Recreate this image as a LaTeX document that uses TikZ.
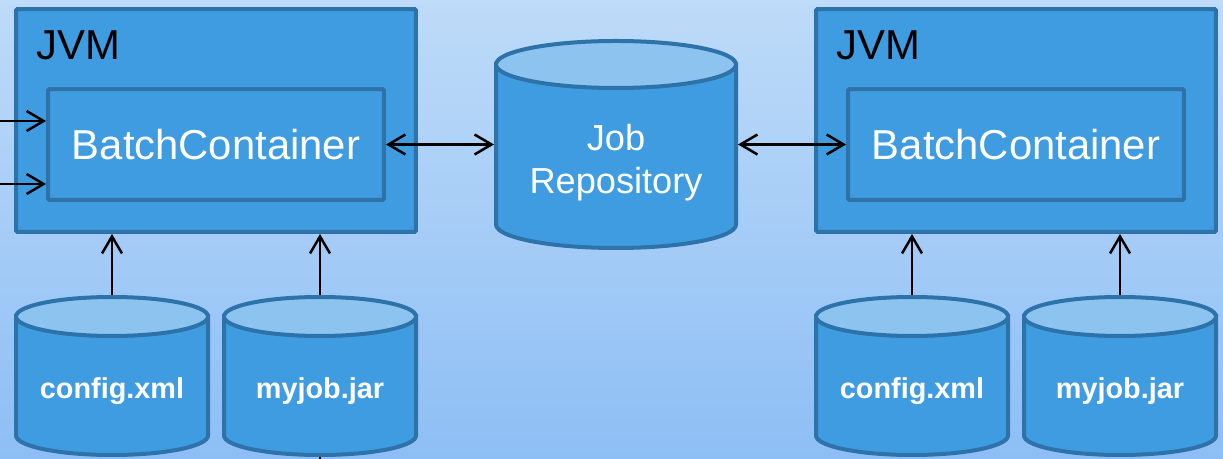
\documentclass[tikz,border=0pt]{standalone}
\usepackage{fontspec}
\setmainfont{Liberation Sans}
\usetikzlibrary{arrows.meta}

\definecolor{bgtop}{HTML}{BEDBF8}
\definecolor{bgbot}{HTML}{8DBEF5}
\definecolor{boxblue}{HTML}{3F9CE1}
\definecolor{boxedge}{HTML}{2E72AA}
\definecolor{lidblue}{HTML}{8CC4EF}

% drum: name, centre x, lid y, base y, x radius, y radius
\newcommand{\drum}[6]{%
	\draw[drumline, fill=boxblue] (#2-#5,#3) -- (#2-#5,#4) arc [start angle=180, end angle=360, x radius=#5, y radius=#6] -- (#2+#5,#3) -- cycle;
	\draw[drumline, fill=lidblue] (#2,#3) ellipse [x radius=#5, y radius=#6];
	\node[inner sep=0, outer sep=0, minimum width={(2*#5+4)*0.02cm}, minimum height={(#3-#4+2*#6+4)*0.02cm}] (#1) at (#2,{(#3+#4)/2}) {};
}

\begin{document}
\begin{tikzpicture}[x=0.02cm, y=0.02cm,
		drumline/.style={draw=boxedge, line width=0.08cm},
		jvmbox/.style={draw=boxedge, fill=boxblue, line width=0.08cm, rounded corners=0.03cm, inner sep=0, outer sep=0.04cm, minimum width=8cm, minimum height=4.46cm},
		cntbox/.style={draw=boxedge, fill=boxblue, line width=0.08cm, rounded corners=0.03cm, inner sep=0, outer sep=0.04cm, minimum width=6.72cm, minimum height=2.22cm, text=white, font=\fontsize{23.8pt}{28pt}\selectfont},
		jvmtext/.style={text=black, font=\fontsize{23.8pt}{28pt}\selectfont, inner sep=0},
		drumtext/.style={text=white, font=\bfseries\fontsize{16.4pt}{20pt}\selectfont},
		flow/.style={-{Straight Barb[length=0.34cm, width=0.4cm]}, line width=0.05cm},
		flowboth/.style={{Straight Barb[length=0.34cm, width=0.4cm]}-{Straight Barb[length=0.34cm, width=0.4cm]}, line width=0.05cm}]
	\useasboundingbox (0,0) rectangle (1223,459);
	\shade[top color=bgtop, bottom color=bgbot] (0,0) rectangle (1223,459);

	% Left JVM
	\node[jvmbox] (jvmL) at (216,338.5) {};
	\node[jvmtext, anchor=base west] (jvmLname) at (36,399) {JVM};
	\node[cntbox] (cntL) at (216,314.5) {BatchContainer};

	% Right JVM
	\node[jvmbox] (jvmR) at (1016,338.5) {};
	\node[jvmtext, anchor=base west] (jvmRname) at (836,399) {JVM};
	\node[cntbox] (cntR) at (1016,314.5) {BatchContainer};

	% Job repository
	\drum{jr}{616}{394.5}{234.5}{120}{23.5}
	\node[text=white, align=center, font=\fontsize{20.6pt}{24.5pt}\selectfont] (jrtext) at (616,296) {Job\\Repository};

	% Files
	\drum{cfgL}{112}{142.5}{23.5}{96}{19.5}
	\drum{jarL}{320}{142.5}{23.5}{96}{19.5}
	\drum{cfgR}{912}{142.5}{23.5}{96}{19.5}
	\drum{jarR}{1120}{142.5}{23.5}{96}{19.5}
	\node[drumtext] (cfgLtext) at (112,68) {config.xml};
	\node[drumtext] (jarLtext) at (320,68) {myjob.jar};
	\node[drumtext] (cfgRtext) at (912,68) {config.xml};
	\node[drumtext] (jarRtext) at (1120,68) {myjob.jar};

	% Arrows
	\coordinate (inA) at (0,338);
	\coordinate (inB) at (0,275);
	\draw[flow] (inA) -- (inA -| cntL.west);
	\draw[flow] (inB) -- (inB -| cntL.west);
	\draw[flowboth] (cntL.east) -- (cntL.east -| jr.west);
	\draw[flowboth] (jr.east |- cntR.west) -- (cntR.west);
	\draw[flow] (cfgL.north) -- (cfgL.north |- jvmL.south);
	\draw[flow] (jarL.north) -- (jarL.north |- jvmL.south);
	\draw[flow] (cfgR.north) -- (cfgR.north |- jvmR.south);
	\draw[flow] (jarR.north) -- (jarR.north |- jvmR.south);
	\draw[line width=0.05cm] (jarL.south) -- ++(0,-4);
\end{tikzpicture}
\end{document}
